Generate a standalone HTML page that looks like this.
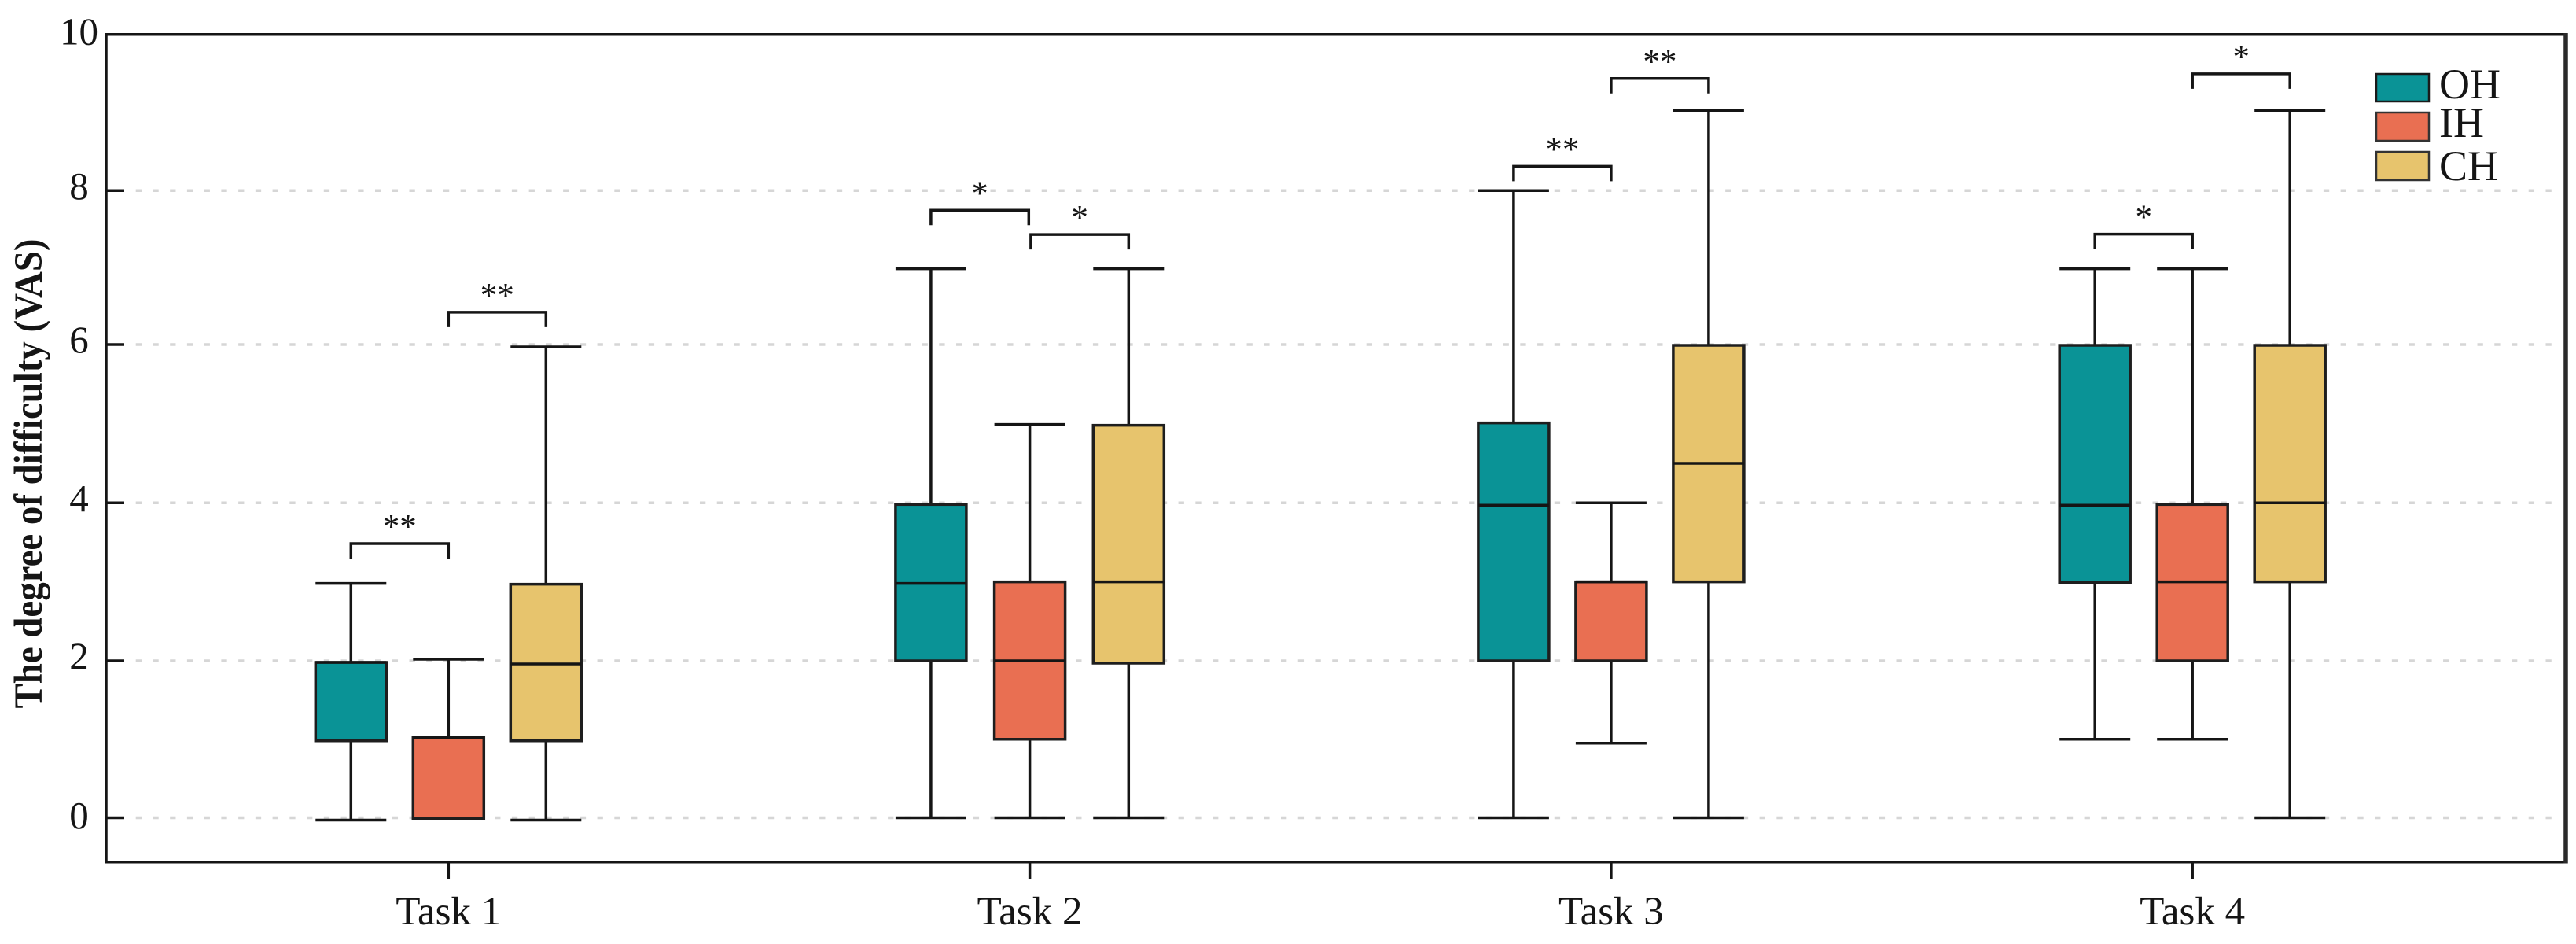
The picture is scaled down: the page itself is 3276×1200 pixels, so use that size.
<!DOCTYPE html>
<html>
<head>
<meta charset="utf-8">
<style>
html,body{margin:0;padding:0;background:#fff;}
svg{display:block;}
text{font-family:"Liberation Serif",serif;fill:#151515;}
</style>
</head>
<body>
<svg id="chart" xmlns="http://www.w3.org/2000/svg" width="3276" height="1200" viewBox="0 0 3276 1200">
  <rect x="0" y="0" width="3276" height="1200" fill="#fff"/>
  <g id="grid"></g>
  <g id="boxes"></g>
  <g id="brackets"></g>
  <g id="axes"></g>
  <text transform="translate(53,602) rotate(-90)" text-anchor="middle" font-size="51" font-weight="bold" textLength="597" lengthAdjust="spacingAndGlyphs">The degree of difficulty (VAS)</text>
  <g>
    <g>
      <rect x="3022" y="94" width="67" height="35" fill="#0a9396" stroke="#1a1a1a" stroke-width="2.5"/>
      <text x="3102" y="125" font-size="54">OH</text>
    </g>
    <g>
      <rect x="3022" y="143" width="67" height="36" fill="#e96f52" stroke="#333" stroke-width="2.5"/>
      <text x="3102" y="174" font-size="54">IH</text>
    </g>
    <g>
      <rect x="3022" y="193" width="67" height="36" fill="#e7c46d" stroke="#333" stroke-width="2.5"/>
      <text x="3102" y="229" font-size="54">CH</text>
    </g>
  </g>
</svg>
<script>
const categories = ['Task 1', 'Task 2', 'Task 3', 'Task 4'];
const seriesNames = ['OH', 'IH', 'CH'];
const seriesColors = ['#0a9396', '#e96f52', '#e7c46d'];
const yTickValues = [0, 2, 4, 6, 8, 10];
const yTickLabels = ['0', '2', '4', '6', '8', '10'];

const ohWhiskerLow = [-0.03, 0, 0, 1];
const ohQ1 = [0.98, 2, 2, 2.99];
const ohMedian = [1.98, 2.98, 3.97, 3.97];
const ohQ3 = [1.98, 3.98, 5.01, 5.99];
const ohWhiskerHigh = [2.98, 6.985, 8, 6.985];

const ihWhiskerLow = [0, 0, 0.95, 1];
const ihQ1 = [-0.01, 1, 2, 2];
const ihMedian = [1.02, 2, 3, 3];
const ihQ3 = [1.02, 3, 3, 3.98];
const ihWhiskerHigh = [2.02, 4.99, 4, 6.985];

const chWhiskerLow = [-0.03, 0, 0, 0];
const chQ1 = [0.98, 1.97, 3, 3];
const chMedian = [1.96, 3, 4.5, 4];
const chQ3 = [2.97, 4.98, 5.99, 5.99];
const chWhiskerHigh = [5.97, 6.985, 9.02, 9.02];

const bracketTask = [0, 0, 1, 1, 2, 2, 3, 3];
const bracketFromSeries = [0, 1, 0, 1, 0, 1, 0, 1];
const bracketLevels = [3.485, 6.42, 7.745, 7.43, 8.31, 9.43, 7.434, 9.49];
const bracketLabels = ['**', '**', '*', '*', '**', '**', '*', '*'];

const NS = 'http://www.w3.org/2000/svg';
const INK = '#151515';
const plotLeft = 135, plotRight = 3263, plotTop = 43.7, plotBottom = 1095.7;

function yScale(v) {
  // The printed axis is slightly uneven; map piecewise between its 2-unit ticks.
  if (v < 2) return 1039.5 - 99.75 * v;
  if (v < 4) return 840 - 100.35 * (v - 2);
  if (v < 6) return 639.3 - 100.65 * (v - 4);
  if (v < 8) return 438 - 97.85 * (v - 6);
  return 242.3 - 99.65 * (v - 8);
}
function xScale(task, series) {
  const spread = task === 1 ? 125.7 : 124;
  return 570.3 + 739.3 * task + (series - 1) * spread;
}
const boxWidth = 90;

function svgEl(tag, parent, attrs) {
  const el = document.createElementNS(NS, tag);
  for (const k in attrs) el.setAttribute(k, attrs[k]);
  parent.appendChild(el);
  return el;
}
function lineEl(parent, x1, y1, x2, y2, w, color) {
  return svgEl('line', parent, { x1: x1, y1: y1, x2: x2, y2: y2, stroke: color || INK, 'stroke-width': w });
}

const gridG = document.getElementById('grid');
const axesG = document.getElementById('axes');
const boxesG = document.getElementById('boxes');
const bracketsG = document.getElementById('brackets');

yTickValues.forEach(function (v, i) {
  const y = yScale(v);
  if (v < 10) {
    const g = lineEl(gridG, 172.7, y, 3246, y, 3.5, '#d6d6d6');
    g.setAttribute('stroke-dasharray', '7.3 14.436');
    
    
    const t = lineEl(axesG, plotLeft, y, 158, y, 3.5);
    
    
  }
  const labelNudge = (v === 0 || v === 10) ? 13.5 : 10.5;
  const label = svgEl('text', axesG, { x: 100.5, y: y + labelNudge, 'text-anchor': 'middle', 'font-size': 49 });
  label.textContent = yTickLabels[i];
  
  
});

const frame = svgEl('path', axesG, {
  d: 'M' + plotRight + ' ' + plotTop + 'H' + plotLeft + 'V' + plotBottom + 'H' + plotRight,
  fill: 'none', stroke: INK, 'stroke-width': 3.5
});



const frameRight = lineEl(axesG, plotRight, plotTop - 1.75, plotRight, plotBottom + 1.75, 5.5, '#2a2a2a');



categories.forEach(function (c, i) {
  const x = xScale(i, 1);
  const t = lineEl(axesG, x, plotBottom, x, 1117, 3.5);
  
  
  const label = svgEl('text', axesG, { x: x, y: 1175, 'text-anchor': 'middle', 'font-size': 51 });
  label.textContent = c;
  
  
});

const seriesStats = [
  [ohWhiskerLow, ohQ1, ohMedian, ohQ3, ohWhiskerHigh],
  [ihWhiskerLow, ihQ1, ihMedian, ihQ3, ihWhiskerHigh],
  [chWhiskerLow, chQ1, chMedian, chQ3, chWhiskerHigh]
];

seriesStats.forEach(function (stats, s) {
  categories.forEach(function (c, t) {
    const x = xScale(t, s);
    const lo = yScale(stats[0][t]), q1 = yScale(stats[1][t]), med = yScale(stats[2][t]),
          q3 = yScale(stats[3][t]), hi = yScale(stats[4][t]);
    const key = seriesNames[s].toLowerCase() + '-task-' + (t + 1);
    const g = svgEl('g', boxesG, {});
    
    
    const whisker = lineEl(g, x, hi, x, lo, 3.5);
    
    
    const capHigh = lineEl(g, x - boxWidth / 2, hi, x + boxWidth / 2, hi, 3.5);
    
    
    const capLow = lineEl(g, x - boxWidth / 2, lo, x + boxWidth / 2, lo, 3.5);
    
    
    const box = svgEl('rect', g, {
      x: x - boxWidth / 2, y: q3, width: boxWidth, height: q1 - q3,
      fill: seriesColors[s], stroke: '#1e1e1e', 'stroke-width': 3.5
    });
    
    
    const median = lineEl(g, x - boxWidth / 2, med, x + boxWidth / 2, med, 3.5);
    
    
  });
});

bracketLevels.forEach(function (level, i) {
  const task = bracketTask[i], from = bracketFromSeries[i];
  const inset = task === 1 ? 1.3 : 0;
  const x1 = xScale(task, from) + (from === 1 ? inset : 0);
  const x2 = xScale(task, from + 1) - (from === 0 ? inset : 0);
  const y = yScale(level);
  const b = svgEl('path', bracketsG, {
    d: 'M' + x1 + ' ' + (y + 19) + 'V' + y + 'H' + x2 + 'V' + (y + 19),
    fill: 'none', stroke: INK, 'stroke-width': 3.5
  });
  
  
  const star = svgEl('text', bracketsG, {
    x: (x1 + x2) / 2, y: y - 7.5, 'text-anchor': 'middle', 'font-size': 43
  });
  star.textContent = bracketLabels[i];
  
  
});
</script>
</body>
</html>
